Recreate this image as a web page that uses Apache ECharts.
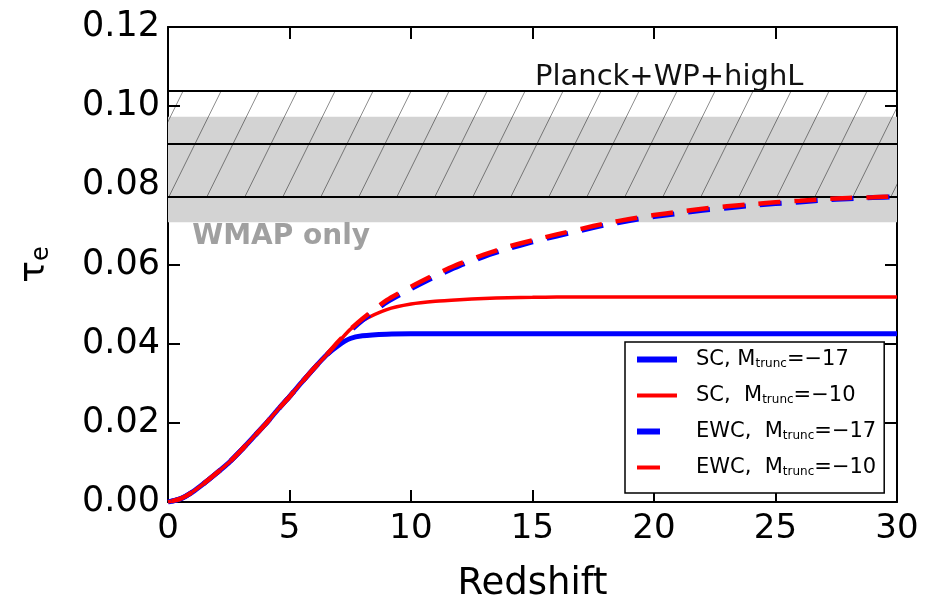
<!DOCTYPE html>
<html>
<head>
<meta charset="utf-8">
<script src="https://cdn.jsdelivr.net/npm/echarts@6/dist/echarts.min.js"></script>
<style>
  html, body { margin: 0; padding: 0; background: #fff; }
  #chart { width: 935px; height: 601px; }
</style>
</head>
<body>
<div id="chart"></div>
<script>
// Redshift grid shared by all curves
const redshift = [0, 0.5, 1, 1.5, 2, 2.5, 3, 3.5, 4, 4.5, 5, 5.5, 6, 6.5,
  7, 7.5, 8, 9, 10, 11, 12, 13, 14, 15, 16, 17, 18, 19, 20, 21, 22, 23, 24, 25, 26, 27, 28, 29, 30];

// Common low-redshift rise (z = 0 ... 6.5)
const tauRise = [0, 0.0008, 0.0025, 0.0048, 0.0073, 0.0099, 0.0130, 0.0163, 0.0196, 0.0232,
  0.0266, 0.0302, 0.0337, 0.0370];

// Optical depth beyond z = 7 for each model
const tauSC17 = tauRise.concat([0.0395, 0.0413, 0.0420, 0.0424,
  0.0425, 0.0425, 0.0425, 0.0425, 0.0425, 0.0425, 0.0425, 0.0425, 0.0425, 0.0425, 0.0425,
  0.0425, 0.0425, 0.0425, 0.0425, 0.0425, 0.0425, 0.0425, 0.0425, 0.0425, 0.0425]);
const tauSC10 = tauRise.concat([0.0403, 0.0436, 0.0458, 0.0486, 0.0500, 0.0507, 0.0511, 0.0514,
  0.0516, 0.0517, 0.0518, 0.0518, 0.0518, 0.0518, 0.0518, 0.0518, 0.0518, 0.0518, 0.0518,
  0.0518, 0.0518, 0.0518, 0.0518, 0.0518, 0.0518]);
const tauEWC17 = tauRise.concat([0.0400, 0.0432, 0.0459, 0.0505, 0.0539, 0.0570, 0.0597, 0.0620,
  0.0640, 0.0657, 0.0672, 0.0686, 0.0700, 0.0711, 0.0721, 0.0729, 0.0737, 0.0743, 0.0749,
  0.0754, 0.0758, 0.0763, 0.0766, 0.0769, 0.0771]);
const tauEWC10 = tauRise.concat([0.0405, 0.0436, 0.0463, 0.0510, 0.0544, 0.0575, 0.0602, 0.0625,
  0.0645, 0.0661, 0.0676, 0.0690, 0.0704, 0.0715, 0.0725, 0.0733, 0.0741, 0.0747, 0.0752,
  0.0757, 0.0761, 0.0765, 0.0768, 0.0770, 0.0772]);

// Observational constraints on tau_e
const planckTau = [0.0770, 0.0904, 0.1038];   // lower, central, upper
const wmapBand = [0.0707, 0.0973];

const xTicks = [0, 5, 10, 15, 20, 25, 30];
const yTicks = [0, 0.02, 0.04, 0.06, 0.08, 0.10, 0.12];

const seriesNames = ['SC, M_trunc=−17', 'SC,  M_trunc=−10', 'EWC,  M_trunc=−17', 'EWC,  M_trunc=−10'];
const legendText = [
  ['SC, M', '=−17'], ['SC,  M', '=−10'], ['EWC,  M', '=−17'], ['EWC,  M', '=−10']
];

const pairs = (ys) => redshift.map((z, i) => [z, ys[i]]);

// Dash pattern for the EWC curves; the offset makes a 40px legend swatch show one dash
const dashPattern = [22, 14];
const dashShift = 32;

// Legend swatches: long bars for solid curves, a single short dash for dashed ones.
// A tiny speck at x=40 keeps every swatch on the same 40px-wide footprint.
const swatch = (len, thick) =>
  'path://M0 0H' + len + 'V' + thick + 'H0Z M40 ' + (thick / 2) + 'h0.01v0.01h-0.01Z';

const legendItem = (name, color, len, thick) => ({
  name,
  icon: swatch(len, thick),
  itemStyle: { color, borderColor: 'rgba(0,0,0,0)', borderWidth: 0, decal: 'none' }
});

// Diagonal hatch tile for the Planck band
function hatchTile() {
  const w = 38, h = 77;
  const c = document.createElement('canvas');
  c.width = w; c.height = h;
  const g = c.getContext('2d');
  g.strokeStyle = 'rgba(0,0,0,0.5)';
  g.lineWidth = 0.9;
  for (let k = -1; k <= 1; k++) {
    g.beginPath();
    g.moveTo(k * w, h);
    g.lineTo(k * w + w, 0);
    g.stroke();
  }
  return c;
}

const chart = echarts.init(document.getElementById('chart'), null, { renderer: 'canvas' });
const font = 'DejaVu Sans';

const axisCommon = {
  type: 'value',
  axisLine: { show: true, onZero: false, lineStyle: { color: '#000', width: 2 } },
  axisTick: { show: true, inside: true, length: 12, lineStyle: { color: '#000', width: 2 } },
  splitLine: { show: false }
};

const option = {
  backgroundColor: '#fff',
  animation: false,
  grid: { left: 168, right: 38, top: 27, bottom: 99, containLabel: false, outerBoundsMode: 'none' },
  xAxis: [
    Object.assign({}, axisCommon, {
      min: 0, max: 30, interval: 5, position: 'bottom',
      name: 'Redshift', nameLocation: 'middle', nameGap: 64,
      nameTextStyle: { fontFamily: font, fontSize: 37, color: '#000' },
      axisLabel: { fontFamily: font, fontSize: 34, color: '#000', margin: 10,
        formatter: (v) => xTicks.includes(v) ? String(v) : '' }
    }),
    Object.assign({}, axisCommon, {
      min: 0, max: 30, interval: 5, position: 'top', axisLabel: { show: false }
    })
  ],
  yAxis: [
    Object.assign({}, axisCommon, {
      min: 0, max: 0.12, interval: 0.02, position: 'left',
      name: '{t|τ}{e|e}', nameLocation: 'middle', nameGap: 114, nameRotate: 90,
      nameTextStyle: { rich: {
        t: { fontFamily: font, fontSize: 36, color: '#000' },
        e: { fontFamily: font, fontSize: 24, color: '#000', verticalAlign: 'bottom', padding: [14, 0, 0, 0] }
      } },
      axisLabel: { fontFamily: font, fontSize: 35, color: '#000', margin: 8,
        formatter: (v) => {
          const t = yTicks.find((y) => Math.abs(y - v) < 1e-9);
          return t === undefined ? '' : t.toFixed(2);
        } }
    }),
    Object.assign({}, axisCommon, {
      min: 0, max: 0.12, interval: 0.02, position: 'right', axisLabel: { show: false }
    })
  ],
  legend: {
    orient: 'vertical',
    left: 625, top: 342,
    backgroundColor: '#fff',
    borderColor: '#000', borderWidth: 1.5, borderRadius: 0,
    padding: [7, 8, 15, 12],
    itemWidth: 40, itemHeight: 14, itemGap: 15,
    symbolKeepAspect: true,
    data: [
      legendItem(seriesNames[0], '#0000ff', 40, 6),
      legendItem(seriesNames[1], '#ff0000', 40, 4),
      legendItem(seriesNames[2], '#0000ff', 23, 6),
      legendItem(seriesNames[3], '#ff0000', 23, 4)
    ],
    formatter: (name) => {
      const i = seriesNames.indexOf(name);
      return '{a|' + legendText[i][0] + '}{s|trunc}{b|' + legendText[i][1] + '}';
    },
    textStyle: {
      rich: {
        a: { fontFamily: font, fontSize: 21, color: '#000', padding: [0, 0, 0, 14] },
        b: { fontFamily: font, fontSize: 21, color: '#000' },
        s: { fontFamily: font, fontSize: 12, color: '#000', verticalAlign: 'bottom', padding: [9, 0, 0, 0] }
      }
    }
  },
  series: [
    {
      name: seriesNames[0], type: 'line', data: pairs(tauSC17), symbol: 'none', smooth: 0.2,
      lineStyle: { color: '#0000ff', width: 5 }, itemStyle: { color: '#0000ff' }, z: 3,
      markArea: {
        silent: true,
        data: [
          [{ yAxis: wmapBand[0], itemStyle: { color: '#d3d3d3' } }, { yAxis: wmapBand[1] }],
          [{ yAxis: planckTau[0], itemStyle: { color: { image: hatchTile(), repeat: 'repeat' } } }, { yAxis: planckTau[2] }]
        ]
      },
      markLine: {
        silent: true, symbol: 'none', precision: 4, label: { show: false },
        lineStyle: { color: '#000', width: 2, type: 'solid' },
        data: planckTau.map((v) => ({ yAxis: v }))
      },
      markPoint: {
        silent: true, symbol: 'rect', symbolSize: 0,
        data: [
          { coord: [15.1, 0.1072], label: { show: true, position: 'right', distance: 0, formatter: 'Planck+WP+highL',
            fontFamily: font, fontSize: 29, color: '#111' } },
          { coord: [1.0, 0.0670], label: { show: true, position: 'right', distance: 0, formatter: 'WMAP only',
            fontFamily: font, fontSize: 28, fontWeight: 'bold', color: '#a0a0a0' } }
        ]
      }
    },
    {
      name: seriesNames[1], type: 'line', data: pairs(tauSC10), symbol: 'none', smooth: 0.2,
      lineStyle: { color: '#ff0000', width: 3.5 }, itemStyle: { color: '#ff0000' }, z: 4
    },
    {
      name: seriesNames[2], type: 'line', data: pairs(tauEWC17), symbol: 'none', smooth: 0.2,
      lineStyle: { color: '#0000ff', width: 5, type: dashPattern, dashOffset: dashShift },
      itemStyle: { color: '#0000ff' }, z: 5
    },
    {
      name: seriesNames[3], type: 'line', data: pairs(tauEWC10), symbol: 'none', smooth: 0.2,
      lineStyle: { color: '#ff0000', width: 4.5, type: dashPattern, dashOffset: dashShift },
      itemStyle: { color: '#ff0000' }, z: 6
    }
  ]
};

chart.setOption(option);
</script>
</body>
</html>
